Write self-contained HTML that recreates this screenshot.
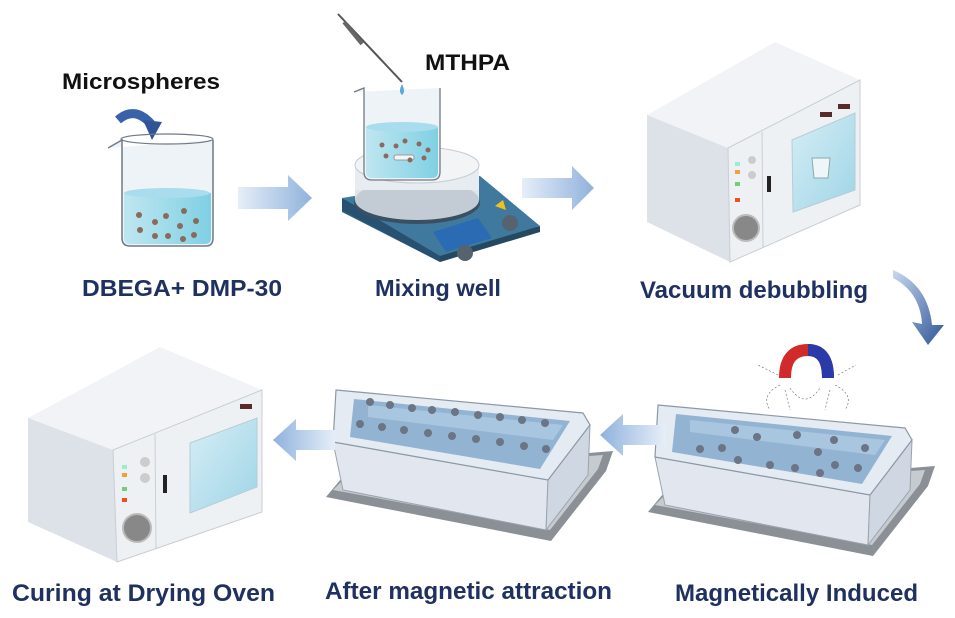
<!DOCTYPE html>
<html><head><meta charset="utf-8"><style>
html,body{margin:0;padding:0;background:#fff;}
svg{display:block;}
text{font-family:"Liberation Sans",Arial,sans-serif;font-weight:bold;}
</style></head><body>
<svg width="955" height="618" viewBox="0 0 955 618" xmlns="http://www.w3.org/2000/svg">
<defs>
<linearGradient id="arR" x1="0" x2="1" y1="0" y2="0"><stop offset="0" stop-color="#e6eef8"/><stop offset="1" stop-color="#8fb2dc"/></linearGradient>
<linearGradient id="arL" x1="1" x2="0" y1="0" y2="0"><stop offset="0" stop-color="#e6eef8"/><stop offset="1" stop-color="#8fb2dc"/></linearGradient>
<linearGradient id="liq" x1="0" x2="1"><stop offset="0" stop-color="#bfe6f0"/><stop offset="1" stop-color="#7fd0e4"/></linearGradient>
<linearGradient id="curv" x1="0" x2="1" y1="0" y2="1"><stop offset="0" stop-color="#c8d8ee"/><stop offset="1" stop-color="#2f5597"/></linearGradient>
<linearGradient id="win" x1="0" x2="1" y1="0" y2="1"><stop offset="0" stop-color="#d6eef6"/><stop offset="1" stop-color="#9fd4e6"/></linearGradient>
<g id="tray">
 <polygon points="648,512 668,488 935,466 928,486 873,556" fill="#8a9096"/>
 <polygon points="655,505 672,488 925,470 920,484 872,545" fill="#c6cbd0"/>
 <polygon points="655,457 870,495 868,545 665,505" fill="#e2e7ef" stroke="#9aa3ad" stroke-width="1"/>
 <polygon points="870,495 912,440 910,490 868,545" fill="#cfd7e2" stroke="#9aa3ad" stroke-width="1"/>
 <polygon points="658,405 905,428 912,440 870,495 655,457" fill="#e4ebf3" stroke="#8d98a5" stroke-width="1.2"/>
 <polygon points="676,414 892,436 862,484 672,452" fill="#93b3d3"/>
 <polygon points="690,420 885,440 875,455 690,432" fill="#a9c6e0"/>
</g>
</defs>

<!-- Labels -->
<text x="62" y="89" font-size="22" fill="#111" textLength="158" lengthAdjust="spacingAndGlyphs">Microspheres</text>
<text x="425" y="70" font-size="22" fill="#111" textLength="85" lengthAdjust="spacingAndGlyphs">MTHPA</text>
<text x="82" y="296" font-size="23" fill="#1f3160" textLength="200" lengthAdjust="spacingAndGlyphs">DBEGA+ DMP-30</text>
<text x="375" y="296" font-size="23" fill="#1f3160" textLength="126" lengthAdjust="spacingAndGlyphs">Mixing well</text>
<text x="640" y="298" font-size="24" fill="#1f3160" textLength="228" lengthAdjust="spacingAndGlyphs">Vacuum debubbling</text>
<text x="12" y="601" font-size="24" fill="#1f3160" textLength="263" lengthAdjust="spacingAndGlyphs">Curing at Drying Oven</text>
<text x="325" y="599" font-size="24" fill="#1f3160" textLength="287" lengthAdjust="spacingAndGlyphs">After magnetic attraction</text>
<text x="675" y="601" font-size="24" fill="#1f3160" textLength="243" lengthAdjust="spacingAndGlyphs">Magnetically Induced</text>

<!-- Beaker 1 -->
<path d="M118,120 Q135,105 152,125" fill="none" stroke="#3a62a8" stroke-width="9"/>
<polygon points="143,120 162,122 152,140" fill="#2f5597"/>
<path d="M108,148 L122,140 L122,238 Q122,246 130,246 L206,246 Q213,246 213,238 L213,140" fill="#eef3f8" stroke="#6f7a86" stroke-width="1.5"/>
<ellipse cx="167" cy="139" rx="46" ry="5" fill="none" stroke="#6f7a86" stroke-width="1.2"/>
<path d="M124,193 L211,193 L211,238 Q211,244 205,244 L130,244 Q124,244 124,238 Z" fill="url(#liq)"/>
<ellipse cx="167" cy="193" rx="43" ry="5" fill="#a9dcec"/>
<g fill="#8a6a5a">
<circle cx="139" cy="215" r="3"/><circle cx="155" cy="222" r="3"/><circle cx="166" cy="216" r="3"/><circle cx="184" cy="211" r="3"/><circle cx="196" cy="221" r="3"/><circle cx="140" cy="230" r="3"/><circle cx="155" cy="236" r="3"/><circle cx="168" cy="236" r="3"/><circle cx="180" cy="226" r="3"/><circle cx="183" cy="239" r="3"/><circle cx="194" cy="235" r="3"/>
</g>

<!-- arrow 1 -->
<polygon points="238,187 288,187 288,175 312,198 288,221 288,209 238,209" fill="url(#arR)"/>
<!-- arrow 2 -->
<polygon points="522,178 572,178 572,166 594,188 572,210 572,198 522,198" fill="url(#arR)"/>

<!-- Stirrer -->
<polygon points="342,200 480,178 540,230 440,262 342,212" fill="#2f5f7e"/>
<polygon points="342,198 480,176 540,226 440,256" fill="#3f7a9e"/>
<polygon points="342,198 440,256 440,262 342,210" fill="#285070"/>
<polygon points="440,256 540,226 540,232 440,262" fill="#25495f"/>
<polygon points="433,232 478,218 492,238 446,252" fill="#2a6bb4"/>
<circle cx="465" cy="253" r="8" fill="#55636f"/><circle cx="510" cy="223" r="8" fill="#55636f"/>
<polygon points="495,206 503,200 506,210" fill="#f2c01a"/>
<ellipse cx="417" cy="203" rx="63" ry="21" fill="#3b4f63"/>
<rect x="355" y="170" width="124" height="30" fill="#dfe5ea"/>
<ellipse cx="417" cy="200" rx="62" ry="20" fill="#c3ccd4"/>
<rect x="355" y="165" width="124" height="25" fill="#e7ecf0"/>
<ellipse cx="417" cy="165" rx="62" ry="18" fill="#f2f4f6" stroke="#c5ccd3"/>
<path d="M354,92 L364,88 L364,172 Q364,180 372,180 L432,180 Q440,180 440,172 L440,88" fill="#eef3f8" stroke="#6f7a86" stroke-width="1.3"/>
<path d="M366,127 L438,127 L438,172 Q438,178 432,178 L372,178 Q366,178 366,172 Z" fill="url(#liq)"/>
<ellipse cx="402" cy="127" rx="36" ry="5" fill="#a9dcec"/>
<rect x="394" y="155" width="20" height="5" rx="2" fill="#f4f4f4" stroke="#888" stroke-width="0.8"/>
<g fill="#8a6a5a"><circle cx="382" cy="145" r="2.5"/><circle cx="396" cy="146" r="2.5"/><circle cx="405" cy="141" r="2.5"/><circle cx="419" cy="144" r="2.5"/><circle cx="428" cy="150" r="2.5"/><circle cx="386" cy="156" r="2.5"/><circle cx="410" cy="160" r="2.5"/><circle cx="424" cy="158" r="2.5"/></g>
<line x1="338" y1="14" x2="402" y2="82" stroke="#555" stroke-width="2"/>
<line x1="344" y1="22" x2="362" y2="44" stroke="#666" stroke-width="4"/>
<path d="M402,84 Q398,92 402,95 Q406,92 402,84 Z" fill="#5aa8d8"/>

<!-- Oven 1 -->
<polygon points="647,115 775,42 860,80 728,148" fill="#f1f3f6"/>
<polygon points="647,115 728,148 730,262 647,222" fill="#dde1e8"/>
<polygon points="728,148 860,80 860,205 730,262" fill="#eef1f4" stroke="#c9ced5" stroke-width="1"/>
<line x1="762" y1="132" x2="763" y2="248" stroke="#c9ced5"/>
<polygon points="792,140 855,113 855,190 793,212" fill="url(#win)" stroke="#b6ccd6"/>
<rect x="767" y="176" width="4" height="16" fill="#222"/>
<rect x="820" y="112" width="12" height="5" fill="#5a2a2a"/><rect x="838" y="104" width="12" height="5" fill="#5a2a2a"/>
<circle cx="752" cy="160" r="4" fill="#ccc"/><circle cx="752" cy="175" r="4" fill="#ccc"/>
<rect x="735" y="162" width="5" height="4" fill="#9ec"/><rect x="735" y="170" width="5" height="4" fill="#f0a040"/><rect x="735" y="182" width="5" height="4" fill="#7c7"/><rect x="735" y="198" width="5" height="4" fill="#f05020"/>
<circle cx="746" cy="228" r="13" fill="#888" stroke="#bbb" stroke-width="2"/>
<path d="M812,158 L830,158 L828,178 L814,178 Z" fill="#eef6fa" stroke="#8aa"/>

<!-- curved arrow -->
<path d="M893,270 Q928,285 932,325 L944,325 L928,345 L912,322 L922,324 Q920,292 893,278 Z" fill="url(#curv)"/>

<!-- Right tray -->
<use href="#tray"/>
<g fill="#6b7585"><circle cx="735" cy="430" r="4"/><circle cx="757" cy="437" r="4"/><circle cx="797" cy="435" r="4"/><circle cx="834" cy="440" r="4"/><circle cx="865" cy="448" r="4"/><circle cx="700" cy="449" r="4"/><circle cx="722" cy="448" r="4"/><circle cx="738" cy="460" r="4"/><circle cx="770" cy="465" r="4"/><circle cx="795" cy="468" r="4"/><circle cx="820" cy="473" r="4"/><circle cx="835" cy="465" r="4"/><circle cx="858" cy="468" r="4"/><circle cx="818" cy="452" r="4"/></g>
<!-- magnet -->
<path d="M785,378 Q785,350 808,350 Q828,350 828,378" fill="none" stroke="#d02a2a" stroke-width="12"/>
<path d="M808,350 Q828,350 828,378" fill="none" stroke="#2a3aa8" stroke-width="12"/>
<g stroke="#666" stroke-width="0.6" stroke-dasharray="2,2" fill="none"><path d="M780,385 Q760,395 770,410"/><path d="M790,388 Q805,410 820,388"/><path d="M835,385 Q855,395 845,410"/><path d="M778,375 L758,365"/><path d="M838,375 L856,365"/><path d="M785,390 L790,410"/><path d="M830,390 L825,410"/></g>

<!-- arrow 3 -->
<polygon points="665,425 623,425 623,414 600,435 623,456 623,445 665,445" fill="url(#arL)"/>

<!-- Middle tray -->
<g transform="translate(-322,-15)"><use href="#tray"/></g>
<g fill="#6b7585"><circle cx="370" cy="402" r="4"/><circle cx="390" cy="405" r="4"/><circle cx="412" cy="408" r="4"/><circle cx="432" cy="410" r="4"/><circle cx="455" cy="412" r="4"/><circle cx="478" cy="415" r="4"/><circle cx="500" cy="417" r="4"/><circle cx="522" cy="420" r="4"/><circle cx="545" cy="423" r="4"/><circle cx="360" cy="424" r="4"/><circle cx="382" cy="427" r="4"/><circle cx="404" cy="430" r="4"/><circle cx="428" cy="433" r="4"/><circle cx="452" cy="436" r="4"/><circle cx="476" cy="439" r="4"/><circle cx="500" cy="442" r="4"/><circle cx="524" cy="446" r="4"/><circle cx="546" cy="449" r="4"/></g>

<!-- arrow 4 -->
<polygon points="335,430 296,430 296,419 273,440 296,461 296,450 335,450" fill="url(#arL)"/>

<!-- Oven 2 -->
<polygon points="28,418 160,347 262,390 113,450" fill="#f1f3f6"/>
<polygon points="28,418 113,450 117,562 28,522" fill="#dde1e8"/>
<polygon points="113,450 262,390 262,512 117,562" fill="#eef1f4" stroke="#c9ced5"/>
<line x1="155" y1="434" x2="156" y2="548" stroke="#c9ced5"/>
<polygon points="190,443 257,418 257,487 190,513" fill="url(#win)" stroke="#b6ccd6"/>
<rect x="163" y="475" width="4" height="18" fill="#222"/>
<rect x="240" y="404" width="12" height="5" fill="#5a2a2a"/>
<circle cx="145" cy="462" r="5" fill="#ccc"/><circle cx="145" cy="478" r="5" fill="#ccc"/>
<rect x="122" y="465" width="5" height="4" fill="#9ec"/><rect x="122" y="473" width="5" height="4" fill="#f0a040"/><rect x="122" y="487" width="5" height="4" fill="#7c7"/><rect x="122" y="498" width="5" height="4" fill="#f05020"/>
<circle cx="137" cy="528" r="14" fill="#888" stroke="#bbb" stroke-width="2"/>
</svg>
</body></html>
